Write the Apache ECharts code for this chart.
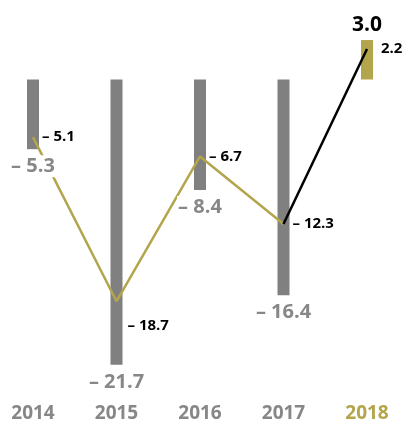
<!DOCTYPE html>
<html>
<head>
<meta charset="utf-8">
<script src="https://cdn.jsdelivr.net/npm/echarts@6/dist/echarts.min.js"></script>
<style>
  html, body { margin: 0; padding: 0; background: #ffffff; }
  #chart { width: 409px; height: 424px; }
</style>
</head>
<body>
<div id="chart"></div>
<script>
// Annual results (bars) and the comparison measure (line)
const years = ['2014', '2015', '2016', '2017', '2018'];
const barValues = [-5.3, -21.7, -8.4, -16.4, 3.0];
const lineValues = [-5.1, -18.7, -6.7, -12.3, 2.2];

const GREY_BAR = '#808080';
const GREY_TEXT = '#878787';
const OLIVE = '#b3a54c';
const CLEAR = 'rgba(0,0,0,0)';
const FONT = '"Open Sans", "DejaVu Sans", sans-serif';

function fmt(v) {
  return v < 0 ? '\u2013 ' + Math.abs(v).toFixed(1) : v.toFixed(1);
}

const last = years.length - 1;

const barData = barValues.map((v, i) => ({
  value: v,
  itemStyle: { color: i === last ? OLIVE : GREY_BAR }
}));

// Bar value labels sit in their own layer above the line, on a white plate
const barLabelData = barValues.map((v, i) => {
  const current = i === last;
  return {
    value: [i, v],
    label: current
      ? { position: 'top', distance: 4, color: '#000', fontSize: 21 }
      : { position: 'bottom', distance: 6, color: GREY_TEXT, fontSize: 20 }
  };
});

// Olive line up to the previous year, black segment into the current year
const lowest = Math.min(...lineValues);
const pastLine = lineValues.map((v, i) => {
  if (i === last) return null;
  const item = { value: v };
  if (v === lowest) item.label = { show: true, offset: [2, 24] };
  return item;
});
const currentLine = lineValues.map((v, i) =>
  i >= last - 1 ? { value: v, label: { show: i === last, distance: 13 } } : null
);

const lineLabel = {
  position: 'right',
  distance: 8,
  color: '#000',
  fontFamily: FONT,
  fontWeight: 'bold',
  fontSize: 15,
  formatter: p => fmt(p.value)
};

const chart = echarts.init(document.getElementById('chart'), null, { renderer: 'canvas' });
chart.setOption({
  animation: false,
  grid: { left: 33, right: 42, top: 13.75, bottom: 28.9, containLabel: false },
  xAxis: {
    type: 'category',
    data: years,
    boundaryGap: false,
    axisLine: { show: false },
    axisTick: { show: false },
    axisLabel: {
      margin: 9,
      fontFamily: FONT,
      fontWeight: 'bold',
      fontSize: 19,
      color: (val, idx) => (idx === last ? OLIVE : GREY_TEXT)
    },
    splitLine: { show: false }
  },
  yAxis: [
    { type: 'value', min: -24, max: 5, show: false },
    { type: 'value', min: -26.47, max: 5.12, show: false }
  ],
  series: [
    {
      type: 'bar',
      yAxisIndex: 0,
      data: barData,
      barWidth: 12,
      z: 1
    },
    {
      type: 'line',
      yAxisIndex: 1,
      data: pastLine,
      symbol: 'circle',
      symbolSize: 2,
      showSymbol: true,
      itemStyle: { color: CLEAR, borderWidth: 0 },
      lineStyle: { color: OLIVE, width: 2.5 },
      label: Object.assign({ show: true }, lineLabel),
      z: 3
    },
    {
      type: 'line',
      yAxisIndex: 1,
      data: currentLine,
      symbol: 'circle',
      symbolSize: 2,
      showSymbol: true,
      itemStyle: { color: CLEAR, borderWidth: 0 },
      lineStyle: { color: '#000', width: 2.5 },
      label: Object.assign({}, lineLabel, { show: false }),
      z: 4
    },
    {
      type: 'scatter',
      yAxisIndex: 0,
      data: barLabelData,
      symbolSize: 0,
      itemStyle: { color: CLEAR, opacity: 1 },
      label: {
        show: true,
        fontFamily: FONT,
        fontWeight: 'bold',
        backgroundColor: '#ffffff',
        padding: [1, 1],
        formatter: p => fmt(p.value[1])
      },
      z: 6
    }
  ]
});
</script>
</body>
</html>
